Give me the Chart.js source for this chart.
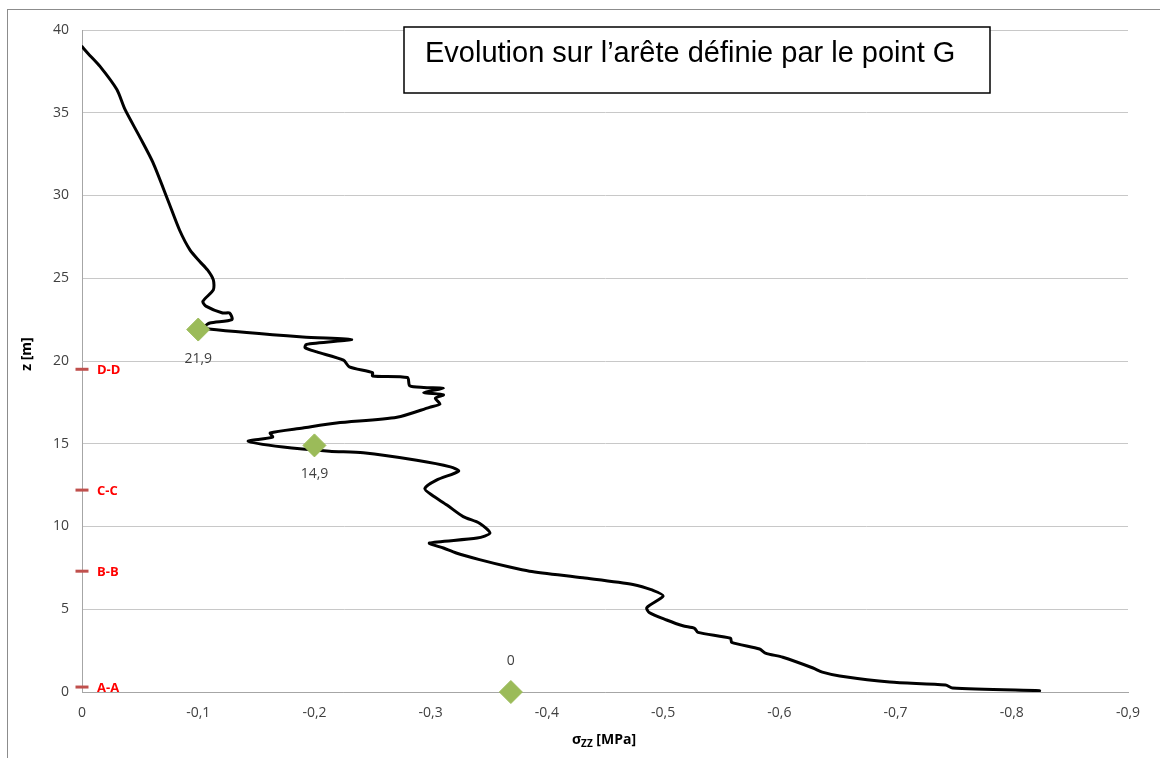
<!DOCTYPE html>
<html>
<head>
<meta charset="utf-8">
<script src="https://cdn.jsdelivr.net/npm/chart.js@4.4.0/dist/chart.umd.min.js"></script>
<style>
html,body{margin:0;padding:0;background:#fff;}
canvas{display:block;}
</style>
</head>
<body>
<canvas id="c" width="1160" height="758"></canvas>
<script>
// ---- data ----
const zCoord = [39.0,38.6,37.8,36.4,35.2,33.5,32.0,29.7,27.9,26.7,26.0,25.5,24.9,24.3,23.6,23.3,22.9,22.9,22.5,22.3,22.1,21.93,
  21.45,21.3,21.0,20.8,20.55,20.05,19.65,19.3,19.1,19.0,18.5,18.4,18.35,18.1,17.95,17.75,17.4,17.2,16.6,16.25,15.95,15.65,15.4,15.15,14.8,
  14.55,14.45,14.0,13.6,13.35,12.8,12.3,11.9,11.3,10.6,10.2,9.6,9.3,9.0,8.7,8.4,8.0,7.55,7.3,6.9,6.5,6.15,5.8,5.1,4.8,4.35,4.0,3.85,3.6,
  3.25,3.0,2.6,2.35,2.1,1.45,1.2,0.97,0.6,0.42,0.24,0.08];
const sigmaZZ = [0,-0.005,-0.0155,-0.030,-0.037,-0.050,-0.061,-0.074,-0.084,-0.093,-0.1015,-0.108,-0.113,-0.113,-0.104,-0.107,-0.121,-0.127,-0.129,-0.110,-0.106,-0.109,
  -0.190,-0.232,-0.193,-0.192,-0.202,-0.225,-0.230,-0.250,-0.250,-0.280,-0.282,-0.294,-0.311,-0.294,-0.311,-0.304,-0.308,-0.299,-0.271,-0.219,-0.190,-0.162,-0.164,-0.143,-0.173,
  -0.213,-0.242,-0.288,-0.317,-0.324,-0.305,-0.295,-0.301,-0.314,-0.328,-0.342,-0.351,-0.340,-0.299,-0.311,-0.322,-0.342,-0.368,-0.385,-0.431,-0.474,-0.491,-0.500,-0.486,-0.488,-0.503,-0.517,-0.527,-0.530,
  -0.558,-0.559,-0.583,-0.588,-0.603,-0.629,-0.637,-0.652,-0.695,-0.743,-0.749,-0.824];

const markerSigma = [-0.1, -0.2, -0.369];
const markerZ = [21.9, 14.9, 0];
const markerLabels = ['21,9', '14,9', '0'];

const sectionNames = ['A-A', 'B-B', 'C-C', 'D-D'];
const sectionZ = [0.3, 7.3, 12.2, 19.5];

const yTicks = [0,5,10,15,20,25,30,35,40];
const xTicks = [0,-0.1,-0.2,-0.3,-0.4,-0.5,-0.6,-0.7,-0.8,-0.9];

const titleText = 'Evolution sur l\u2019ar\u00eate d\u00e9finie par le point G';
const yTitle = 'z [m]';
const xTitleMain = '\u03c3', xTitleSub = 'ZZ', xTitleUnit = ' [MPa]';

// ---- build datasets ----
const curve = sigmaZZ.map((x, i) => ({x: x, y: zCoord[i]}));
const markers = markerSigma.map((x, i) => ({x: x, y: markerZ[i]}));
const sections = sectionZ.map(z => ({x: 0, y: z}));

const fmtX = v => { const r = Math.round(v * 10) / 10; return r === 0 ? '0' : r.toFixed(1).replace('.', ','); };
const fmtY = v => String(Math.round(v));

const decor = {
  id: 'decor',
  afterDraw(chart) {
    const ctx = chart.ctx, xs = chart.scales.x, ys = chart.scales.y;
    ctx.save();
    // outer frame
    ctx.strokeStyle = '#8c8c8c'; ctx.lineWidth = 1;
    ctx.strokeRect(7.5, 9.5, 1300, 900);
    // marker labels
    ctx.fillStyle = '#404040';
    ctx.font = '14px "Open Sans", sans-serif';
    ctx.textAlign = 'center'; ctx.textBaseline = 'middle';
    markers.forEach((p, i) => {
      const px = xs.getPixelForValue(p.x), py = ys.getPixelForValue(p.y);
      const dy = p.y === 0 ? -31 : 29;
      ctx.fillText(markerLabels[i], px, py + dy);
    });
    // section labels
    ctx.fillStyle = '#ff0000';
    ctx.font = 'bold 13px "Open Sans", sans-serif';
    ctx.textAlign = 'left';
    sections.forEach((p, i) => {
      ctx.fillText(sectionNames[i], xs.getPixelForValue(0) + 15, ys.getPixelForValue(p.y) + 1);
    });
    // axis titles
    ctx.fillStyle = '#000';
    ctx.font = 'bold 14px "Open Sans", sans-serif';
    ctx.save();
    ctx.translate(27, 354); ctx.rotate(-Math.PI / 2);
    ctx.textAlign = 'center';
    ctx.fillText(yTitle, 0, 0);
    ctx.restore();
    ctx.textAlign = 'left';
    const wMain = ctx.measureText(xTitleMain).width;
    ctx.font = 'bold 10px "Open Sans", sans-serif';
    const wSub = ctx.measureText(xTitleSub).width;
    ctx.font = 'bold 14px "Open Sans", sans-serif';
    const wUnit = ctx.measureText(xTitleUnit).width;
    let sx = 604 - (wMain + wSub + wUnit) / 2;
    const by = 740;
    ctx.fillText(xTitleMain, sx, by);
    ctx.font = 'bold 10px "Open Sans", sans-serif';
    ctx.fillText(xTitleSub, sx + wMain, by + 4);
    ctx.font = 'bold 14px "Open Sans", sans-serif';
    ctx.fillText(xTitleUnit, sx + wMain + wSub, by);
    // title box
    ctx.fillStyle = '#fff';
    ctx.fillRect(404, 27, 586, 66);
    ctx.strokeStyle = '#000'; ctx.lineWidth = 1.5;
    ctx.strokeRect(404, 27, 586, 66);
    ctx.fillStyle = '#000';
    ctx.font = '29px "Liberation Sans", Arial, sans-serif';
    ctx.textAlign = 'left';
    ctx.fillText(titleText, 425, 54);
    ctx.restore();
  }
};

new Chart(document.getElementById('c'), {
  type: 'scatter',
  data: {
    datasets: [
      { data: markers, pointStyle: 'rectRot', pointRadius: 11.5, pointHoverRadius: 11.5,
        backgroundColor: '#9bbb59', borderColor: '#9bbb59', borderWidth: 1, clip: false },
      { data: sections, pointStyle: 'line', pointRadius: 6.5, pointHoverRadius: 6.5,
        borderColor: '#c0504d', borderWidth: 3, clip: false },
      { data: curve, showLine: true, borderColor: '#000', borderWidth: 3, pointRadius: 0,
        tension: 0.25, fill: false, borderJoinStyle: 'round', borderCapStyle: 'round' }
    ]
  },
  options: {
    responsive: false,
    animation: false,
    layout: { padding: { left: 0, top: 30, right: 32, bottom: 0 } },
    plugins: { legend: { display: false }, tooltip: { enabled: false } },
    scales: {
      x: {
        type: 'linear', min: -0.9, max: 0, reverse: true,
        afterFit: s => { s.height = 66; },
        afterBuildTicks: s => { s.ticks = xTicks.map(v => ({value: v})); },
        grid: { display: false, drawTicks: false },
        border: { display: true, color: '#a6a6a6', width: 1 },
        ticks: { callback: fmtX, color: '#404040', font: { family: 'Open Sans', size: 14 }, padding: 13, maxRotation: 0 }
      },
      y: {
        type: 'linear', min: 0, max: 40,
        afterFit: s => { s.width = 82; },
        afterBuildTicks: s => { s.ticks = yTicks.map(v => ({value: v})); },
        grid: { color: '#c8c8c8', lineWidth: 1, drawTicks: false },
        border: { display: true, color: '#a6a6a6', width: 1 },
        ticks: { callback: fmtY, color: '#404040', font: { family: 'Open Sans', size: 14 }, padding: 13 }
      }
    }
  },
  plugins: [decor]
});
</script>
</body>
</html>
